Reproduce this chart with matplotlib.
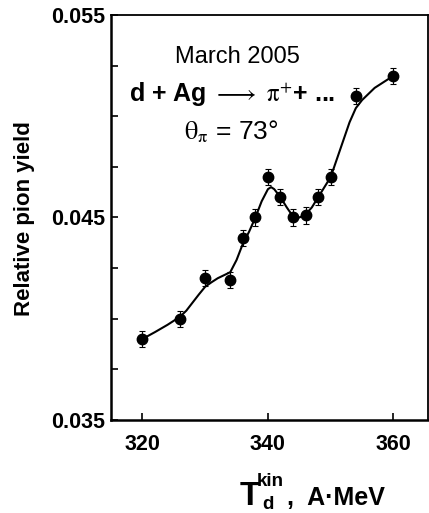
import matplotlib
matplotlib.use("Agg")
import matplotlib.pyplot as plt
from matplotlib.ticker import FixedLocator, MultipleLocator

plt.rcParams['font.family'] = ['Liberation Sans', 'DejaVu Sans']
plt.rcParams['mathtext.fontset'] = 'stix'

# measured points
energy = [320, 326, 330, 334, 336, 338, 340, 342, 344, 346, 348, 350, 354, 360]
pion_yield = [0.0390, 0.0400, 0.0420, 0.0419, 0.0440, 0.0450, 0.0470, 0.0460,
              0.0450, 0.0451, 0.0460, 0.0470, 0.0510, 0.0520]
yield_err = [0.0004, 0.0004, 0.0004, 0.0004, 0.0004, 0.0004, 0.0004, 0.0004,
             0.0004, 0.0004, 0.0004, 0.0004, 0.0004, 0.0004]

# smooth guide line
curve_e = [320, 321, 322, 323, 324, 325, 326, 327, 328, 329, 330, 331, 332, 333,
           334, 335, 336, 337, 338, 339, 340, 340.5, 341, 342, 343, 344, 345,
           346, 347, 348, 349, 350, 351, 352, 353, 354, 355, 356, 357, 358, 359, 360]
curve_y = [0.0390, 0.03917, 0.03934, 0.03952, 0.0397, 0.0399, 0.0401, 0.0404,
           0.0408, 0.0412, 0.04158, 0.0418, 0.0420, 0.04215, 0.0423, 0.0429,
           0.0437, 0.0443, 0.0450, 0.0458, 0.0464, 0.0465, 0.0464, 0.0460,
           0.0455, 0.04505, 0.0450, 0.04515, 0.0455, 0.0460, 0.0465, 0.0470,
           0.0479, 0.0488, 0.0497, 0.0504, 0.0508, 0.0511, 0.0514, 0.0516,
           0.0518, 0.0520]

W, H = 429, 513
fig = plt.figure(figsize=(W / 100, H / 100), dpi=100)
ax = fig.add_axes([111 / W, (H - 420) / H, (428 - 111) / W, (420 - 15) / H])

ax.plot(curve_e, curve_y, color='black', lw=1.5, zorder=2)
ax.errorbar(energy, pion_yield, yerr=yield_err, fmt='o', color='black',
            ms=7.5, elinewidth=0.8, capsize=2.5, capthick=0.8, zorder=3)

ax.set_xlim(315, 365.5)
ax.set_ylim(0.035, 0.055)
ax.xaxis.set_major_locator(FixedLocator([320, 340, 360]))
ax.yaxis.set_major_locator(FixedLocator([0.035, 0.045, 0.055]))
ax.yaxis.set_minor_locator(MultipleLocator(0.0025))
ax.set_yticklabels(['0.035', '0.045', '0.055'])
ax.tick_params(direction='in', length=5, width=1.2, labelsize=15.5)
ax.tick_params(axis='x', pad=10)
ax.tick_params(axis='y', pad=4)
ax.tick_params(axis='y', which='minor', direction='in', length=5, width=1.2)
for lab in ax.get_xticklabels() + ax.get_yticklabels():
    lab.set_fontweight('bold')
for side in ['left', 'bottom']:
    ax.spines[side].set_linewidth(1.8)
for side in ['top', 'right']:
    ax.spines[side].set_linewidth(1.3)

def ftext(x, y, s, **kw):
    fig.text(x / W, 1 - y / H, s, **kw)

ftext(237, 57, 'March 2005', fontsize=17, ha='center', va='center')
ftext(232, 95, r'd + Ag $\longrightarrow$ $\mathrm{\pi}^{+}$+ ...', fontsize=18,
      fontweight='bold', ha='center', va='center')
ftext(231, 132, r'$\mathrm{\theta}_{\mathrm{\pi}}$ = 73°', fontsize=19,
      ha='center', va='center')

ftext(25, 219, 'Relative pion yield', fontsize=16, fontweight='bold',
      rotation=90, ha='center', va='center')

ftext(250, 505, 'T', fontsize=24, fontweight='bold', ha='center', va='baseline')
ftext(270, 486, 'kin', fontsize=13.5, fontweight='bold', ha='center', va='baseline')
ftext(268, 509, 'd', fontsize=13.5, fontweight='bold', ha='center', va='baseline')
ftext(287, 505, ',  A·MeV', fontsize=18, fontweight='bold', ha='left', va='baseline')

fig.savefig('out.png', dpi=100)
